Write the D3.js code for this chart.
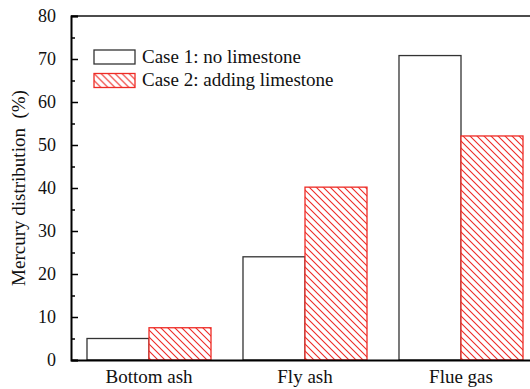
<!DOCTYPE html>
<html>
<head>
<meta charset="utf-8">
<script src="https://cdn.jsdelivr.net/npm/d3@7"></script>
<style>
  html, body { margin: 0; padding: 0; background: #fff; }
  svg { display: block; font-family: "Liberation Serif", "Times New Roman", serif; }
</style>
</head>
<body>
<svg id="chart" width="530" height="389"></svg>
<script>
// Mercury distribution among outputs, two combustion cases
const categories = ["Bottom ash", "Fly ash", "Flue gas"];
const seriesNames = ["Case 1: no limestone", "Case 2: adding limestone"];
const case1 = [5.0, 24.0, 70.8];
const case2 = [7.5, 40.2, 52.1];
const yTicks = [0, 10, 20, 30, 40, 50, 60, 70, 80];
const yMinorTicks = [5, 15, 25, 35, 45, 55, 65, 75];

(function () {
  const svg = d3.select("#chart");
  const red = "#ee2b25";

  const plotLeft = 71, plotRight = 539, plotTop = 16, plotBottom = 360;

  const x = d3.scaleBand().domain(categories).range([plotLeft, plotRight]).paddingInner(0).paddingOuter(0);
  const xs = d3.scaleBand().domain([0, 1]).range([0, x.bandwidth()]).paddingInner(0).paddingOuter(0.258);
  const y = d3.scaleLinear().domain([0, 80]).range([plotBottom, plotTop]);

  // diagonal hatch for the limestone case
  const defs = svg.append("defs");
  const pat = defs.append("pattern")
    .attr("id", "hatch")
    .attr("patternUnits", "userSpaceOnUse")
    .attr("width", 7).attr("height", 7);
  pat.append("rect").attr("width", 7).attr("height", 7).attr("fill", "#fff");
  pat.append("path")
    .attr("d", "M-1,-1 L8,8 M-8,-1 L1,8 M6,-1 L15,8")
    .attr("stroke", red).attr("stroke-width", 1.1).attr("fill", "none");

  const data = categories.map((c, i) => ({ cat: c, values: [case1[i], case2[i]] }));

  const groups = svg.append("g").selectAll("g")
    .data(data).join("g")
    .attr("transform", d => `translate(${x(d.cat)},0)`);

  groups.selectAll("rect")
    .data(d => d.values.map((v, k) => ({ k, v })))
    .join("rect")
    .attr("x", d => xs(d.k))
    .attr("width", xs.bandwidth())
    .attr("y", d => y(d.v))
    .attr("height", d => y(0) - y(d.v))
    .attr("fill", d => d.k === 0 ? "#fff" : "url(#hatch)")
    .attr("stroke", d => d.k === 0 ? "#333" : red)
    .attr("stroke-width", 1.3);

  // frame: top border line
  svg.append("line")
    .attr("x1", plotLeft).attr("x2", 530)
    .attr("y1", plotTop).attr("y2", plotTop)
    .attr("stroke", "#111").attr("stroke-width", 1.5);

  // y axis with inward ticks
  const yAxis = d3.axisLeft(y).tickValues(yTicks).tickSize(-7).tickPadding(15).tickFormat(d3.format("d"));
  const gy = svg.append("g").attr("transform", `translate(${plotLeft},0)`).call(yAxis);
  gy.select(".domain").attr("stroke", "#000").attr("stroke-width", 2);
  gy.selectAll(".tick line").attr("stroke", "#000").attr("stroke-width", 1.5);
  gy.selectAll(".tick text").attr("font-size", 18).attr("fill", "#111")
    .attr("font-family", "Liberation Serif, serif");

  const yMinor = d3.axisLeft(y).tickValues(yMinorTicks).tickSize(-4).tickFormat("");
  const gym = svg.append("g").attr("transform", `translate(${plotLeft},0)`).call(yMinor);
  gym.select(".domain").remove();
  gym.selectAll(".tick line").attr("stroke", "#000").attr("stroke-width", 1.5);

  // x axis
  const xAxis = d3.axisBottom(x).tickSize(0).tickPadding(10);
  const gx = svg.append("g").attr("transform", `translate(0,${plotBottom})`).call(xAxis);
  gx.select(".domain").attr("stroke", "#000").attr("stroke-width", 2);
  gx.selectAll(".tick text").attr("font-size", 19).attr("fill", "#111")
    .attr("font-family", "Liberation Serif, serif");

  // y axis title
  svg.append("text")
    .attr("transform", "translate(25,188) rotate(-90)")
    .attr("text-anchor", "middle")
    .attr("font-size", 19)
    .attr("fill", "#111")
    .style("white-space", "pre")
    .text("Mercury distribution  (%)");

  // legend
  const legend = svg.append("g").attr("transform", "translate(94,50)");
  const items = legend.selectAll("g").data(seriesNames).join("g")
    .attr("transform", (d, i) => `translate(0,${i * 23.5})`);
  items.append("rect")
    .attr("width", 41).attr("height", 14)
    .attr("fill", (d, i) => i === 0 ? "#fff" : "url(#hatch)")
    .attr("stroke", (d, i) => i === 0 ? "#333" : red)
    .attr("stroke-width", 1.3);
  items.append("text")
    .attr("x", 48).attr("y", 12.5)
    .attr("font-size", 19).attr("fill", "#111")
    .text(d => d);
})();
</script>
</body>
</html>
